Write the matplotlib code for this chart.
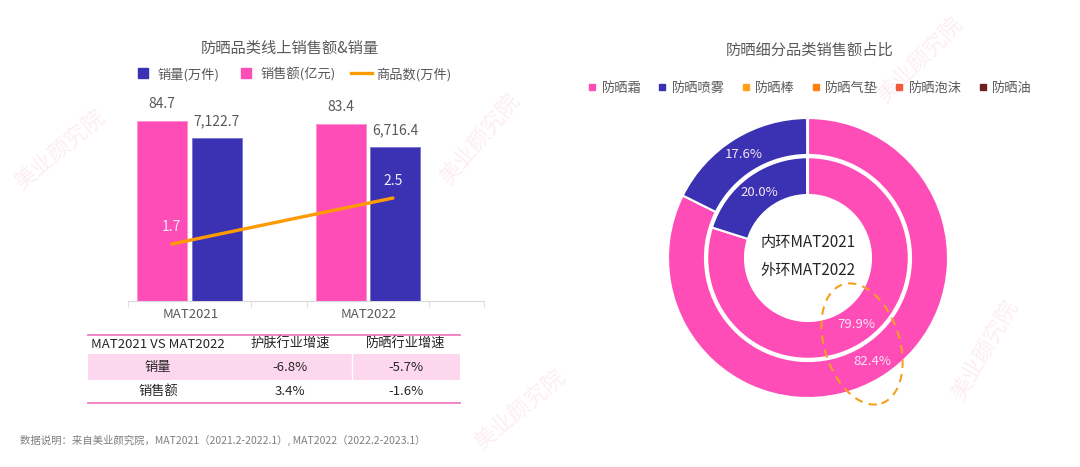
import matplotlib
matplotlib.use('Agg')
import matplotlib.pyplot as plt
import numpy as np
from matplotlib.lines import Line2D
from matplotlib.patches import Ellipse, Rectangle

plt.rcParams['font.family'] = ['Noto Sans CJK SC', 'DejaVu Sans']

# ---- data ----
categories = ['MAT2021', 'MAT2022']
sales_amount = [84.7, 83.4]          # 销售额(亿元)
sales_volume = [7122.7, 6716.4]      # 销量(万件)
item_count = [1.7, 2.5]              # 商品数(万件)

table_header = ['MAT2021 VS MAT2022', '护肤行业增速', '防晒行业增速']
table_rows = ['销量', '销售额']
skin_growth = ['-6.8%', '3.4%']
sun_growth = ['-5.7%', '-1.6%']

seg_names = ['防晒霜', '防晒喷雾', '防晒棒', '防晒气垫', '防晒泡沫', '防晒油']
share_2022 = [82.4, 17.6, 0.01, 0.01, 0.01, 0.01]   # outer ring
share_2021 = [79.9, 20.0, 0.04, 0.03, 0.02, 0.01]   # inner ring

PINK = '#ff4db8'
BLUE = '#3a32b2'
ORANGE = '#ff9a00'
seg_colors = [PINK, BLUE, '#ffa21a', '#ff7f0e', '#ef5a3c', '#6e1f1f']
GREY = '#595959'

W, H = 1080, 467


def box(l, t, w, h):
    return [l / W, 1 - (t + h) / H, w / W, h / H]


fig = plt.figure(figsize=(W / 100, H / 100), dpi=100)

# faint watermarks
for (x, y, r) in [(60, 150, 40), (480, 140, 50), (520, 410, 40), (985, 350, 60), (920, 60, 45)]:
    fig.text(x / W, 1 - y / H, '美业颜究院', fontsize=16, color='#f7c6dc', alpha=0.3,
             rotation=r, ha='center', va='center', zorder=0)

# ---- left: bar + line chart ----
ax = fig.add_axes(box(128, 100, 356, 201))
ax_b = ax.twinx()
ax_l = ax.twinx()
x = np.arange(len(categories))
bw = 0.28

bars_p = ax.bar(x - 0.154, sales_amount, bw, color=PINK, edgecolor='#ff8fd0', lw=0.6, zorder=2)
bars_b = ax_b.bar(x + 0.153, sales_volume, bw, color=BLUE, edgecolor='#7a74d0', lw=0.6, zorder=2)
ax_l.plot(x + np.array([-0.1, 0.14]), item_count, color=ORANGE, lw=2.4, solid_capstyle='round')

ax.set_ylim(0, 94.6)
ax_b.set_ylim(0, 8783)
ax_l.set_ylim(0.709, 4.205)
for a in (ax, ax_b, ax_l):
    a.set_xlim(-0.345, 1.65)
    for s in a.spines.values():
        s.set_visible(False)
    a.set_yticks([])
ax.spines['bottom'].set_visible(True)
ax.spines['bottom'].set_color('#d9d9d9')
ax.set_xticks(x + 0.005)
ax.set_xticklabels(categories, fontsize=9.5, color=GREY)
ax.tick_params(axis='x', length=0, pad=5)
ax.set_xticks([-0.345, 0.345, 0.658, 1.34, 1.65], minor=True)
ax.tick_params(axis='x', which='minor', length=4, color='#d9d9d9')

for b, v in zip(bars_p, sales_amount):
    ax.annotate(f'{v:.1f}', (b.get_x() + b.get_width() / 2, v), xytext=(0, 7),
                textcoords='offset points', ha='center', va='bottom', fontsize=10, color=GREY)
for b, v in zip(bars_b, sales_volume):
    ax_b.annotate(f'{v:,.1f}', (b.get_x() + b.get_width() / 2, v), xytext=(0, 7),
                  textcoords='offset points', ha='center', va='bottom', fontsize=10, color=GREY)
for xi, v in zip(x + np.array([-0.1, 0.14]), item_count):
    ax_l.annotate(f'{v:.1f}', (xi, v), xytext=(0, 7), textcoords='offset points',
                  ha='center', va='bottom', fontsize=10, color='#f2eefa')

fig.text(290 / W, 1 - 48 / H, '防晒品类线上销售额&销量', ha='center', va='center',
         fontsize=11, color=GREY)
handles = [Line2D([], [], marker='s', ls='', color=BLUE, markersize=7),
           Line2D([], [], marker='s', ls='', color=PINK, markersize=7),
           Line2D([], [], color=ORANGE, lw=2.4)]
fig.legend(handles, ['销量(万件)', '销售额(亿元)', '商品数(万件)'], loc='center',
           bbox_to_anchor=(292 / W, 1 - 74 / H), ncol=3, frameon=False, fontsize=9.5,
           handlelength=1.6, handletextpad=0.3, columnspacing=1.2, labelcolor=GREY)

# ---- table ----
tax = fig.add_axes(box(88, 333, 372, 72))
tax.set_xlim(88, 460)
tax.set_ylim(405, 331)
tax.axis('off')
col_edges = [88, 228, 352, 460]
row_edges = [333, 353, 379, 403]
tax.add_patch(Rectangle((88, 353), 372, 26, color='#fdd7ee', lw=0))
tax.plot([352, 352], [353, 379], color='white', lw=1)
tax.plot([88, 460], [333, 333], color='#f27cc3', lw=1.3, clip_on=False)
tax.plot([88, 460], [403, 403], color='#f27cc3', lw=1.3, clip_on=False)
centers = [(col_edges[i] + col_edges[i + 1]) / 2 for i in range(3)]
ymid = [(row_edges[i] + row_edges[i + 1]) / 2 for i in range(3)]
for c, t in zip(centers, table_header):
    tax.text(c, ymid[0], t, ha='center', va='center', fontsize=9.5, color='#262626')
for r, (lab, s1, s2) in enumerate(zip(table_rows, skin_growth, sun_growth)):
    for c, t in zip(centers, [lab, s1, s2]):
        tax.text(c, ymid[r + 1], t, ha='center', va='center', fontsize=9.5, color='#262626')

fig.text(20 / W, 1 - 440 / H,
         '数据说明：来自美业颜究院，MAT2021（2021.2-2022.1）, MAT2022（2022.2-2023.1）',
         ha='left', va='center', fontsize=7.5, color='#7f7f7f')

# ---- right: donut ----
pax = fig.add_axes(box(668, 118, 280, 280))
r_out, w_out = 1.0, 0.264
r_in, w_in = 0.72, 0.27
pax.pie(share_2022, radius=r_out, colors=seg_colors, startangle=90, counterclock=False,
        wedgeprops=dict(width=w_out, edgecolor='white', linewidth=1.5))
pax.pie(share_2021, radius=r_in, colors=seg_colors, startangle=90, counterclock=False,
        wedgeprops=dict(width=w_in, edgecolor='white', linewidth=1.5))
pax.set_xlim(-1, 1)
pax.set_ylim(-1, 1)
pax.set_aspect('equal')


def ring_labels(vals, rmid):
    total = sum(vals)
    start = 90.0
    for v in vals:
        span = 360.0 * v / total
        mid = np.deg2rad(start - span / 2)
        if v >= 1:
            pax.text(rmid * np.cos(mid), rmid * np.sin(mid), f'{v:.1f}%', ha='center',
                     va='center', fontsize=9.5, color='#f6e4f4')
        start -= span


ring_labels(share_2022, r_out - w_out / 2)
ring_labels(share_2021, r_in - w_in / 2)
pax.text(0, 0.11, '内环MAT2021', ha='center', va='center', fontsize=11, color='#262626')
pax.text(0, -0.09, '外环MAT2022', ha='center', va='center', fontsize=11, color='#262626')
pax.add_patch(Ellipse((0.386, -0.614), 0.536, 0.893, angle=18, fill=False,
                      ec='#f5a01e', lw=1.5, ls=(0, (4, 3)), clip_on=False))

fig.text(810 / W, 1 - 50 / H, '防晒细分品类销售额占比', ha='center', va='center',
         fontsize=11, color=GREY)
seg_handles = [Line2D([], [], marker='s', ls='', color=c, markersize=5) for c in seg_colors]
fig.legend(seg_handles, seg_names, loc='center', bbox_to_anchor=(810 / W, 1 - 88 / H),
           ncol=6, frameon=False, fontsize=9.5, handlelength=0.6, handletextpad=0.4,
           columnspacing=1.3, labelcolor=GREY)

fig.savefig('out.png', dpi=100)
